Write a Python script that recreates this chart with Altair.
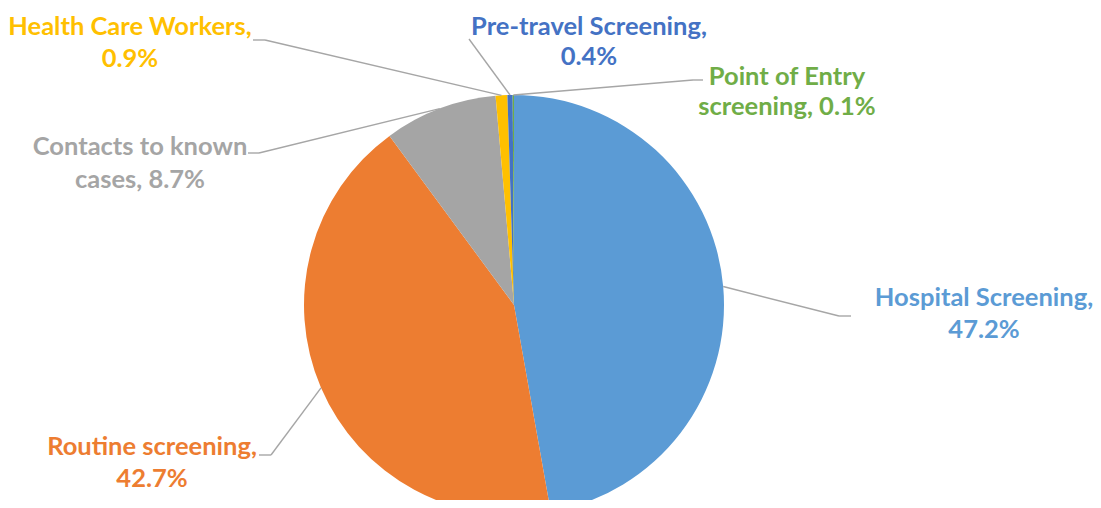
import altair as alt
import pandas as pd

# ---- data ----
categories = ["Hospital Screening", "Routine screening", "Contacts to known cases",
              "Health Care Workers", "Pre-travel Screening", "Point of Entry screening"]
shares = [47.2, 42.7, 8.7, 0.9, 0.4, 0.1]
label_line1 = ["Hospital Screening,", "Routine screening,", "Contacts to known",
               "Health Care Workers,", "Pre-travel Screening,", "Point of Entry"]
label_line2_prefix = ["", "", "cases, ", "", "", "screening, "]

# ---- styles / layout (chart pixel space = page - 8) ----
colors = ["#5B9BD5", "#ED7D31", "#A5A5A5", "#FFC000", "#4472C4", "#70AD47"]
W, H = 1085, 492
CX, CY, R = 506, 297, 210
# (center x, baseline line 1, baseline line 2)
label_pos = [(976, 298, 330), (144, 447, 479), (132, 147, 180),
             (122, 27, 59), (581, 27, 57), (779, 77, 107)]
elbow_xy = [(831, 308), (263, 447), (251, 145), (257, 32), (461, 31), (685, 72)]
end_xy = [(843, 308), (251, 447), (240, 145), (245, 32), (461, 31), (695, 72)]

df = pd.DataFrame({
    "cat": categories,
    "value": shares,
    "idx": list(range(len(categories))),
    "ex": [p[0] for p in elbow_xy], "ey": [p[1] for p in elbow_xy],
    "tx": [p[0] for p in end_xy], "ty": [p[1] for p in end_xy],
})

rows = []
for i, c in enumerate(categories):
    lx, y1, y2 = label_pos[i]
    rows.append({"cat": c, "text": label_line1[i], "x": lx, "y": y1})
    rows.append({"cat": c, "text": f"{label_line2_prefix[i]}{shares[i]:.1f}%", "x": lx, "y": y2})
tdf = pd.DataFrame(rows)

xs = alt.Scale(domain=[0, W], range=[0, W], nice=False, zero=False)
ys = alt.Scale(domain=[0, H], range=[0, H], nice=False, zero=False)
cs = alt.Scale(domain=categories, range=colors)

pie = alt.Chart(df).mark_arc(radius=R).encode(
    theta=alt.Theta("value:Q", stack=True),
    order=alt.Order("idx:Q", sort="ascending"),
    color=alt.Color("cat:N", scale=cs, legend=None),
    x=alt.value(CX), y=alt.value(CY),
)

anch = alt.Chart(df).transform_joinaggregate(
    total="sum(value)"
).transform_window(
    cum="sum(value)", sort=[alt.SortField("idx", order="ascending")]
).transform_calculate(
    mid="(datum.cum - datum.value/2) / datum.total * 2 * PI",
    ax=f"{CX} + {R} * sin(datum.mid)",
    ay=f"{CY} - {R} * cos(datum.mid)",
)

rule1 = anch.mark_rule(color="#A6A6A6", strokeWidth=1.4).encode(
    x=alt.X("ax:Q", scale=xs, axis=None), y=alt.Y("ay:Q", scale=ys, axis=None),
    x2="ex:Q", y2="ey:Q",
)
rule2 = anch.mark_rule(color="#A6A6A6", strokeWidth=1.4).encode(
    x=alt.X("ex:Q", scale=xs, axis=None), y=alt.Y("ey:Q", scale=ys, axis=None),
    x2="tx:Q", y2="ty:Q",
)

text = alt.Chart(tdf).mark_text(
    font="Lato", fontWeight="bold", fontSize=25.5, align="center", baseline="alphabetic"
).encode(
    x=alt.X("x:Q", scale=xs, axis=None), y=alt.Y("y:Q", scale=ys, axis=None),
    text="text:N",
    color=alt.Color("cat:N", scale=cs, legend=None),
)

chart = alt.layer(pie, rule1, rule2, text).properties(
    width=W, height=H, autosize=alt.AutoSizeParams(type="none"), padding=0
).configure_view(stroke=None)

chart.save("out.html", embed_options={"renderer": "svg", "actions": False})
